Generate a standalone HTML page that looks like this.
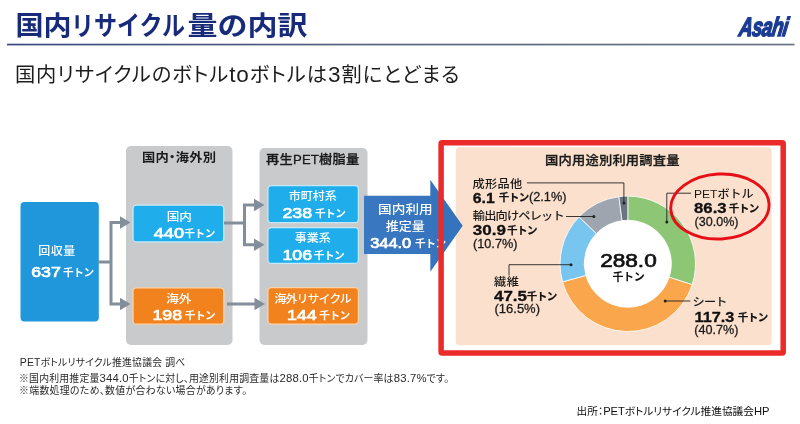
<!DOCTYPE html>
<html lang="ja"><head><meta charset="utf-8"><title>国内リサイクル量の内訳</title>
<style>
html,body{margin:0;padding:0;background:#fff;}
body{width:800px;height:424px;overflow:hidden;}
svg{display:block;font-family:"Liberation Sans","Noto Sans CJK JP",sans-serif;}
</style></head><body>
<svg width="800" height="424" viewBox="0 0 800 424">
<defs>
<linearGradient id="hl" x1="0" x2="1" y1="0" y2="0"><stop offset="0" stop-color="#3a4a82"/><stop offset="0.5" stop-color="#59657f"/><stop offset="1" stop-color="#6a7384"/></linearGradient>
<linearGradient id="ba" x1="0" x2="1" y1="0" y2="0"><stop offset="0" stop-color="#3a78c1"/><stop offset="1" stop-color="#3473bb"/></linearGradient>
</defs>
<text font-size="26.5" fill="#182b7b" x="15.5" y="35" font-weight="700" textLength="56" lengthAdjust="spacingAndGlyphs" font-family='"Noto Sans CJK JP","Liberation Sans",sans-serif'>国内</text>
<text font-size="26.5" fill="#182b7b" x="71" y="35" font-weight="700" textLength="114" lengthAdjust="spacingAndGlyphs" font-family='"Noto Sans CJK JP","Liberation Sans",sans-serif'>リサイクル</text>
<text font-size="26.5" fill="#182b7b" x="187.6" y="35" font-weight="700" textLength="120" lengthAdjust="spacingAndGlyphs" font-family='"Noto Sans CJK JP","Liberation Sans",sans-serif'>量の内訳</text>
<rect x="7" y="43.7" width="787.5" height="1.7" fill="url(#hl)"/>
<text transform="translate(738.2 36) skewX(-9) scale(0.70 1)" x="0" y="0" font-size="26.5" font-weight="700" font-style="italic" font-family='"Liberation Sans",sans-serif' fill="#1b3c92" stroke="#1b3c92" stroke-width="1.6" stroke-linejoin="miter" letter-spacing="-0.6">Asahi</text>
<text font-size="20.3" fill="#1d1d1d" x="14.9" y="82.2" textLength="444.5" lengthAdjust="spacing" style="font-feature-settings:'palt'">国内リサイクルのボトル<tspan font-size="22.5">to</tspan>ボトルは<tspan font-size="22.5">3</tspan>割にとどまる</text>
<rect x="126" y="146" width="106.5" height="199" rx="5" fill="#c9cacc" />
<rect x="259.5" y="148" width="108" height="197" rx="5" fill="#c9cacc" />
<text font-size="13.3" fill="#1a1a1a" transform="translate(179.1 162.2) scale(1 0.93)" x="0" y="0" font-weight="700" text-anchor="middle" letter-spacing="0.2" font-family='"Noto Sans CJK JP","Liberation Sans",sans-serif' style="font-feature-settings:'palt'">国内・海外別</text>
<text font-size="13.2" fill="#1a1a1a" transform="translate(312.6 163.9) scale(1 0.93)" x="0" y="0" font-weight="500" text-anchor="middle" stroke="#1a1a1a" stroke-width="0.3" textLength="93" lengthAdjust="spacing">再生PET樹脂量</text>
<rect x="455.8" y="147.3" width="315.8" height="198" rx="4" fill="#fbe0cd" />
<rect x="20.5" y="202" width="78.3" height="119.5" rx="4" fill="#1f97da" />
<text font-size="12" fill="#fff" transform="translate(57 254.8) scale(1 0.94)" x="0" y="0" font-weight="500" text-anchor="middle" letter-spacing="0.5">回収量</text>
<text font-size="14.6" fill="#fff" x="31.2" y="277.2" textLength="29.6" lengthAdjust="spacingAndGlyphs" font-family='"Liberation Sans",sans-serif' stroke="#fff" stroke-width="0.7">637</text>
<text font-size="10.7" fill="#fff" x="63.0" y="276.3" font-weight="700" letter-spacing="-0.5" font-family='"Noto Sans CJK JP","Liberation Sans",sans-serif'>千トン</text>
<rect x="133.0" y="205.2" width="90.8" height="36.699999999999996" rx="3.5" fill="#1faeeb" stroke="#c4eafa" stroke-width="1.3"/>
<rect x="133.0" y="287.8" width="90.8" height="36.4" rx="3.5" fill="#f2821d" stroke="#fbd3a8" stroke-width="1.3"/>
<rect x="267.90000000000003" y="185.7" width="90.5" height="37.0" rx="3.5" fill="#1faeeb" stroke="#c4eafa" stroke-width="1.3"/>
<rect x="267.90000000000003" y="227.6" width="90.5" height="35.8" rx="3.5" fill="#1faeeb" stroke="#c4eafa" stroke-width="1.3"/>
<rect x="267.90000000000003" y="287.70000000000005" width="90.5" height="36.4" rx="3.5" fill="#f2821d" stroke="#fbd3a8" stroke-width="1.3"/>
<text font-size="12" fill="#fff" transform="translate(179.3 220.5) scale(1.05 0.94)" x="0" y="0" font-weight="500" text-anchor="middle">国内</text>
<text font-size="14.6" fill="#fff" x="153.8" y="238.20000000000002" textLength="30.2" lengthAdjust="spacingAndGlyphs" font-family='"Liberation Sans",sans-serif' stroke="#fff" stroke-width="0.7">440</text>
<text font-size="10.7" fill="#fff" x="184.29999999999998" y="237.3" font-weight="700" letter-spacing="-0.5" font-family='"Noto Sans CJK JP","Liberation Sans",sans-serif'>千トン</text>
<text font-size="12" fill="#fff" transform="translate(178.8 302.6) scale(1.05 0.95)" x="0" y="0" font-weight="500" text-anchor="middle">海外</text>
<text font-size="14.6" fill="#fff" x="152.5" y="319.7" textLength="29.6" lengthAdjust="spacingAndGlyphs" font-family='"Liberation Sans",sans-serif' stroke="#fff" stroke-width="0.7">198</text>
<text font-size="10.7" fill="#fff" x="184.7" y="318.8" font-weight="700" letter-spacing="-0.5" font-family='"Noto Sans CJK JP","Liberation Sans",sans-serif'>千トン</text>
<text font-size="12" fill="#fff" transform="translate(312.7 200.3) scale(1 0.94)" x="0" y="0" font-weight="500" text-anchor="middle">市町村系</text>
<text font-size="14.6" fill="#fff" x="282.5" y="218.1" textLength="29.6" lengthAdjust="spacingAndGlyphs" font-family='"Liberation Sans",sans-serif' stroke="#fff" stroke-width="0.7">238</text>
<text font-size="10.7" fill="#fff" x="314.9" y="217.2" font-weight="700" letter-spacing="-0.5" font-family='"Noto Sans CJK JP","Liberation Sans",sans-serif'>千トン</text>
<text font-size="12" fill="#fff" transform="translate(312.7 242.3) scale(1 0.94)" x="0" y="0" font-weight="500" text-anchor="middle">事業系</text>
<text font-size="14.6" fill="#fff" x="282.5" y="260.09999999999997" textLength="29.6" lengthAdjust="spacingAndGlyphs" font-family='"Liberation Sans",sans-serif' stroke="#fff" stroke-width="0.7">106</text>
<text font-size="10.7" fill="#fff" x="313.7" y="259.2" font-weight="700" letter-spacing="-0.5" font-family='"Noto Sans CJK JP","Liberation Sans",sans-serif'>千トン</text>
<text font-size="12" fill="#fff" transform="translate(312.7 302.6) scale(1 0.95)" x="0" y="0" font-weight="500" text-anchor="middle" letter-spacing="-1">海外リサイクル</text>
<text font-size="14.6" fill="#fff" x="287" y="319.7" textLength="29.6" lengthAdjust="spacingAndGlyphs" font-family='"Liberation Sans",sans-serif' stroke="#fff" stroke-width="0.7">144</text>
<text font-size="10.7" fill="#fff" x="319.2" y="318.8" font-weight="700" letter-spacing="-0.5" font-family='"Noto Sans CJK JP","Liberation Sans",sans-serif'>千トン</text>
<path d="M98.5,262 H111 M121,222.5 H111 V304 H121" fill="none" stroke="#828e99" stroke-width="3"/>
<polygon points="130.5,222.5 120.0,216.3 120.0,228.7" fill="#828e99"/>
<polygon points="130.5,304 120.0,297.8 120.0,310.2" fill="#828e99"/>
<path d="M224,223 H244.5 M255,205 H244.5 V244.75 H255" fill="none" stroke="#828e99" stroke-width="3"/>
<polygon points="264.5,205 254.0,198.8 254.0,211.2" fill="#828e99"/>
<polygon points="264.5,244.75 254.0,238.55 254.0,250.95" fill="#828e99"/>
<path d="M227,304 H256" fill="none" stroke="#828e99" stroke-width="3"/>
<polygon points="265,304 254.5,297.8 254.5,310.2" fill="#828e99"/>
<polygon points="364,195.8 430.3,195.8 430.3,179.7 462.7,225.75 430.3,271.8 430.3,254 364,254" fill="url(#ba)"/>
<text font-size="13" fill="#fff" transform="translate(405.4 214.2) scale(1.05 0.92)" x="0" y="0" font-weight="500" text-anchor="middle">国内利用</text>
<text font-size="13" fill="#fff" transform="translate(405.2 230.6) scale(1 0.92)" x="0" y="0" font-weight="500" text-anchor="middle">推定量</text>
<text font-size="13.8" fill="#fff" x="370.2" y="248.3" textLength="41" lengthAdjust="spacingAndGlyphs" font-family='"Liberation Sans",sans-serif' stroke="#fff" stroke-width="0.7">344.0</text>
<text font-size="10.7" fill="#fff" x="415.0" y="247.4" font-weight="700" letter-spacing="-0.5" font-family='"Noto Sans CJK JP","Liberation Sans",sans-serif'>千トン</text>
<rect x="441.1" y="142.7" width="342.1" height="210.2" fill="none" stroke="#ea2b2a" stroke-width="5.5" rx="1"/>
<path d="M627.80,196.10 A67.7,67.7 0 0 1 692.19,284.72 L669.17,277.24 A43.5,43.5 0 0 0 627.80,220.30 Z" fill="#8dc675" stroke="#fff" stroke-width="0.8"/>
<path d="M692.19,284.72 A67.7,67.7 0 0 1 562.56,281.87 L585.88,275.41 A43.5,43.5 0 0 0 669.17,277.24 Z" fill="#f9a64c" stroke="#fff" stroke-width="0.8"/>
<path d="M562.56,281.87 A67.7,67.7 0 0 1 579.04,216.84 L596.47,233.63 A43.5,43.5 0 0 0 585.88,275.41 Z" fill="#78c6f0" stroke="#fff" stroke-width="0.8"/>
<path d="M579.04,216.84 A67.7,67.7 0 0 1 618.89,196.69 L622.08,220.68 A43.5,43.5 0 0 0 596.47,233.63 Z" fill="#9ea5af" stroke="#fff" stroke-width="0.8"/>
<path d="M618.89,196.69 A67.7,67.7 0 0 1 627.80,196.10 L627.80,220.30 A43.5,43.5 0 0 0 622.08,220.68 Z" fill="#6b7380" stroke="#fff" stroke-width="0.8"/>
<circle cx="627.8" cy="263.8" r="43.5" fill="#fff"/>
<text font-size="19.2" fill="#111" x="600.2" y="266.8" textLength="56.5" lengthAdjust="spacingAndGlyphs" font-family='"Liberation Sans",sans-serif' stroke="#111" stroke-width="0.7">288.0</text>
<text font-size="11" fill="#111" x="628.4" y="280.8" font-weight="700" text-anchor="middle" letter-spacing="-0.4" font-family='"Noto Sans CJK JP","Liberation Sans",sans-serif'>千トン</text>
<text font-size="13.3" fill="#1a1a1a" transform="translate(612.4 164.9) scale(1 0.92)" x="0" y="0" font-weight="500" text-anchor="middle" letter-spacing="0.18" stroke="#1a1a1a" stroke-width="0.3">国内用途別利用調査量</text>
<text font-size="12.2" fill="#1a1a1a" transform="translate(472.6 188.4) scale(1 0.93)" x="0" y="0" font-weight="500" letter-spacing="0.25">成形品他</text>
<path d="M527,182.9 H623.9 V203" fill="none" stroke="#222" stroke-width="0.9"/>
<circle cx="623.9" cy="203" r="1.5" fill="#222"/>
<text font-size="14.7" fill="#111" x="472.8" y="202.5" font-weight="700" textLength="22" lengthAdjust="spacingAndGlyphs" font-family='"Liberation Sans",sans-serif' stroke="#111" stroke-width="0.3">6.1</text>
<text font-size="10.5" fill="#111" x="498.8" y="201.29999999999998" font-weight="700" letter-spacing="-0.55" font-family='"Noto Sans CJK JP","Liberation Sans",sans-serif' stroke="#111" stroke-width="0.2">千トン</text>
<text font-size="13.4" fill="#1a1a1a" x="529" y="200.9" textLength="37.5" lengthAdjust="spacingAndGlyphs" font-family='"Liberation Sans","Noto Sans CJK JP",sans-serif' stroke="#1a1a1a" stroke-width="0.3">(2.1%)</text>
<text font-size="12.2" fill="#1a1a1a" transform="translate(472.8 220.2) scale(1 0.93)" x="0" y="0" font-weight="500" letter-spacing="-0.8">輸出向けペレット</text>
<path d="M566,216.5 H593.8" fill="none" stroke="#222" stroke-width="0.9"/>
<circle cx="593.8" cy="216.5" r="1.5" fill="#222"/>
<text font-size="14.7" fill="#111" x="472.8" y="235.1" font-weight="700" textLength="33.2" lengthAdjust="spacingAndGlyphs" font-family='"Liberation Sans",sans-serif' stroke="#111" stroke-width="0.3">30.9</text>
<text font-size="10.5" fill="#111" x="507.0" y="233.89999999999998" font-weight="700" letter-spacing="-0.55" font-family='"Noto Sans CJK JP","Liberation Sans",sans-serif' stroke="#111" stroke-width="0.2">千トン</text>
<text font-size="13.4" fill="#1a1a1a" x="473" y="247.8" textLength="44.5" lengthAdjust="spacingAndGlyphs" font-family='"Liberation Sans","Noto Sans CJK JP",sans-serif' stroke="#1a1a1a" stroke-width="0.3">(10.7%)</text>
<path d="M509,275.5 V264.7 H571" fill="none" stroke="#222" stroke-width="0.9"/>
<circle cx="571" cy="264.7" r="1.5" fill="#222"/>
<text font-size="12.2" fill="#1a1a1a" transform="translate(494 286.40000000000003) scale(1 0.93)" x="0" y="0" font-weight="500" letter-spacing="0.5">繊維</text>
<text font-size="14.7" fill="#111" x="494" y="301.09999999999997" font-weight="700" textLength="33" lengthAdjust="spacingAndGlyphs" font-family='"Liberation Sans",sans-serif' stroke="#111" stroke-width="0.3">47.5</text>
<text font-size="10.5" fill="#111" x="526.8" y="299.9" font-weight="700" letter-spacing="-0.55" font-family='"Noto Sans CJK JP","Liberation Sans",sans-serif' stroke="#111" stroke-width="0.2">千トン</text>
<text font-size="13.4" fill="#1a1a1a" x="494.5" y="313.1" textLength="45.5" lengthAdjust="spacingAndGlyphs" font-family='"Liberation Sans","Noto Sans CJK JP",sans-serif' stroke="#1a1a1a" stroke-width="0.3">(16.5%)</text>
<path d="M666.8,222 V193.2 H691" fill="none" stroke="#222" stroke-width="0.9"/>
<circle cx="666.8" cy="222" r="1.5" fill="#222"/>
<text font-size="12.2" fill="#1a1a1a" transform="translate(694 198.2) scale(1 0.93)" x="0" y="0" font-weight="500" textLength="59.5" lengthAdjust="spacingAndGlyphs">PETボトル</text>
<text font-size="14.7" fill="#111" x="694" y="213.3" font-weight="700" textLength="32.6" lengthAdjust="spacingAndGlyphs" font-family='"Liberation Sans",sans-serif' stroke="#111" stroke-width="0.3">86.3</text>
<text font-size="10.5" fill="#111" x="728.8" y="212.1" font-weight="700" letter-spacing="-0.55" font-family='"Noto Sans CJK JP","Liberation Sans",sans-serif' stroke="#111" stroke-width="0.2">千トン</text>
<text font-size="13.4" fill="#1a1a1a" x="694.5" y="225.9" textLength="44" lengthAdjust="spacingAndGlyphs" font-family='"Liberation Sans","Noto Sans CJK JP",sans-serif' stroke="#1a1a1a" stroke-width="0.3">(30.0%)</text>
<ellipse cx="719.9" cy="206.5" rx="49.2" ry="32.5" fill="none" stroke="#e60f18" stroke-width="2.9" transform="rotate(-3 719.9 206.6)"/>
<path d="M665.2,301 H690.3" fill="none" stroke="#222" stroke-width="0.9"/>
<circle cx="665.2" cy="301" r="1.5" fill="#222"/>
<text font-size="12.2" fill="#1a1a1a" transform="translate(692.6 306.0) scale(1 0.93)" x="0" y="0" font-weight="500" letter-spacing="-0.9">シート</text>
<text font-size="14.7" fill="#111" x="694.6" y="322.0" font-weight="700" textLength="39.8" lengthAdjust="spacingAndGlyphs" font-family='"Liberation Sans",sans-serif' stroke="#111" stroke-width="0.3">117.3</text>
<text font-size="10.5" fill="#111" x="737.8" y="320.8" font-weight="700" letter-spacing="-0.55" font-family='"Noto Sans CJK JP","Liberation Sans",sans-serif' stroke="#111" stroke-width="0.2">千トン</text>
<text font-size="13.4" fill="#1a1a1a" x="694.3" y="333.9" textLength="44.2" lengthAdjust="spacingAndGlyphs" font-family='"Liberation Sans","Noto Sans CJK JP",sans-serif' stroke="#1a1a1a" stroke-width="0.3">(40.7%)</text>
<text font-size="9.9" fill="#2a2a2a" x="19.8" y="366" font-family='"Liberation Sans","Noto Sans CJK JP",sans-serif' textLength="165.5" lengthAdjust="spacing" style="font-feature-settings:'palt'"><tspan font-size="10.4" font-family='"Liberation Sans",sans-serif'>PET</tspan>ボトルリサイクル推進協議会 調べ</text>
<text font-size="9.9" fill="#2a2a2a" x="19" y="381.6" font-family='"Liberation Sans","Noto Sans CJK JP",sans-serif' textLength="430" lengthAdjust="spacing" style="font-feature-settings:'palt'">※国内利用推定量<tspan font-size="11.3" font-family='"Liberation Sans",sans-serif'>344.0</tspan>千トンに対し、用途別利用調査量は<tspan font-size="11.3" font-family='"Liberation Sans",sans-serif'>288.0</tspan>千トンでカバー率は<tspan font-size="11.3" font-family='"Liberation Sans",sans-serif'>83.7%</tspan>です。</text>
<text font-size="9.9" fill="#2a2a2a" x="19" y="393.6" font-family='"Liberation Sans","Noto Sans CJK JP",sans-serif' textLength="228" lengthAdjust="spacing" style="font-feature-settings:'palt'">※端数処理のため、数値が合わない場合があります。</text>
<text font-size="10.7" fill="#111" x="576.5" y="415" font-family='"Liberation Sans","Noto Sans CJK JP",sans-serif' textLength="193" lengthAdjust="spacing" style="font-feature-settings:'palt'">出所：<tspan font-size="11.2" font-family='"Liberation Sans",sans-serif'>PET</tspan>ボトルリサイクル推進協議会<tspan font-size="11.2" font-family='"Liberation Sans",sans-serif'>HP</tspan></text>
</svg>
</body></html>
